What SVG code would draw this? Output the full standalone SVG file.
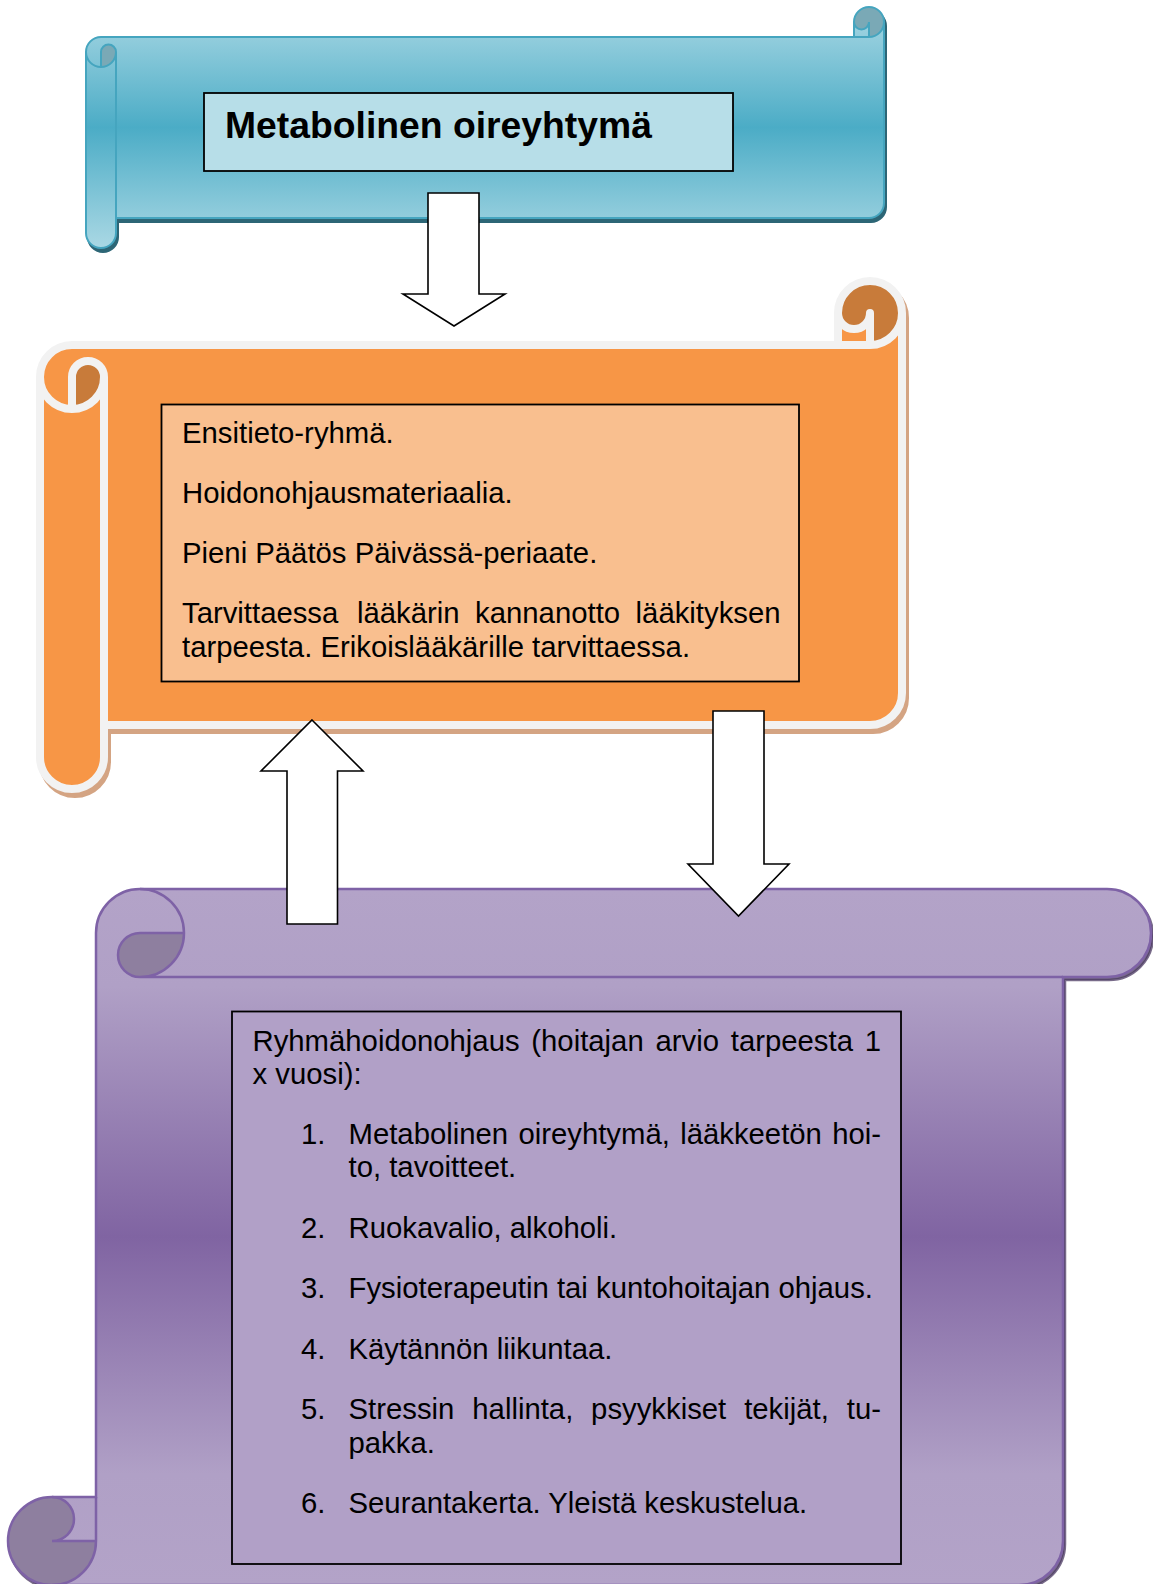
<svg xmlns="http://www.w3.org/2000/svg" width="1153" height="1584" viewBox="0 0 1153 1584">
  <style>
    .t { font-family: "Liberation Sans", Arial, sans-serif; font-size: 29.3px; fill: #000; }
    .title { font-family: "Liberation Sans", Arial, sans-serif; font-size: 37.3px; font-weight: bold; fill: #000; }
    .box { stroke: #000; stroke-width: 1.8; }
    .arrow { fill: #fff; stroke: #000; stroke-width: 1.6; stroke-linejoin: miter; }
    .blue-line { fill: none; stroke: #45A5BF; stroke-width: 2; }
    .orange-line { fill: none; stroke: #F2F2F2; stroke-width: 8; stroke-linejoin: round; }
    .purple-line { fill: none; stroke: #7E62A6; stroke-width: 2.5; }
  </style>
  <defs>
    <linearGradient id="gBlue" x1="0" y1="0" x2="0" y2="1">
      <stop offset="0" stop-color="#AAD8E4"/>
      <stop offset="0.5" stop-color="#4BACC6"/>
      <stop offset="1" stop-color="#AAD8E4"/>
    </linearGradient>
    <linearGradient id="gPurple" x1="0" y1="0" x2="0" y2="1">
      <stop offset="0" stop-color="#B3A3C8"/>
      <stop offset="0.14" stop-color="#B0A0C6"/>
      <stop offset="0.5" stop-color="#8064A2"/>
      <stop offset="0.84" stop-color="#B0A0C6"/>
      <stop offset="1" stop-color="#B3A3C8"/>
    </linearGradient>
    <path id="blueOuter" d="M15,30 L768,30 L768,15 A15,15 0 0 1 798,15 L798,196 A15,15 0 0 1 783,211 L30,211 L30,226 A15,15 0 0 1 0,226 L0,45 A15,15 0 0 1 15,30 Z"/>
    <path id="orangeOuter" d="M32,64 L798,64 L798,32 A32,32 0 0 1 862,32 L862,412 A32,32 0 0 1 830,444 L64,444 L64,476 A32,32 0 0 1 0,476 L0,96 A32,32 0 0 1 32,64 Z"/>
    <path id="purpleOuter" d="M88,608 L88,44 A44,44 0 0 1 132,0 L1099,0 A44,44 0 0 1 1099,88 L1055,88 L1055,652 A44,44 0 0 1 1011,696 L44,696 A44,44 0 0 1 44,608 Z"/>
  </defs>

  <!-- Purple scroll (bottom) -->
  <g id="node-ryhmahoidonohjaus">
    <g transform="translate(8,889)">
      <use href="#purpleOuter" transform="translate(2,3)" fill="#4B3A61" fill-opacity="0.75" stroke="#4B3A61" stroke-opacity="0.75" stroke-width="2.5"/>
      <use href="#purpleOuter" style="fill:url(#gPurple)"/>
      <path d="M176,44 A44,44 0 0 1 132,88 A22,22 0 0 1 132,44 Z M88,652 A44,44 0 1 1 44,608 A22,22 0 0 1 44,652 Z" fill="#8E7F9F"/>
      <path class="purple-line" d="M132,0 A44,44 0 0 1 132,88 A22,22 0 0 1 132,44 L176,44 M1055,88 L132,88 M44,608 A22,22 0 0 1 44,652 L88,652 M44,696 A44,44 0 0 0 88,652 L88,608"/>
      <use href="#purpleOuter" class="purple-line"/>
    </g>
    <rect class="box" x="232" y="1011.5" width="669" height="552.5" fill="#B1A0C7"/>
    <text class="t" y="1050.5"><tspan x="252.5">Ryhmähoidonohjaus</tspan><tspan x="531.3">(hoitajan</tspan><tspan x="655.5">arvio</tspan><tspan x="730.8">tarpeesta</tspan><tspan x="864.8">1</tspan></text>
    <text class="t" x="252.5" y="1084">x vuosi):</text>
    <text class="t" x="301" y="1143.5">1.</text>
    <text class="t" y="1143.5"><tspan x="348.5">Metabolinen</tspan><tspan x="518.4">oireyhtymä,</tspan><tspan x="680.2">lääkkeetön</tspan><tspan x="832.2">hoi-</tspan></text>
    <text class="t" x="348.5" y="1177">to, tavoitteet.</text>
    <text class="t" x="301" y="1237.5">2.</text>
    <text class="t" x="348.5" y="1237.5">Ruokavalio, alkoholi.</text>
    <text class="t" x="301" y="1298">3.</text>
    <text class="t" x="348.5" y="1298">Fysioterapeutin tai kuntohoitajan ohjaus.</text>
    <text class="t" x="301" y="1358.5">4.</text>
    <text class="t" x="348.5" y="1358.5">Käytännön liikuntaa.</text>
    <text class="t" x="301" y="1419">5.</text>
    <text class="t" y="1419"><tspan x="348.5">Stressin</tspan><tspan x="472.3">hallinta,</tspan><tspan x="591.1">psyykkiset</tspan><tspan x="744.2">tekijät,</tspan><tspan x="846.8">tu-</tspan></text>
    <text class="t" x="348.5" y="1452.5">pakka.</text>
    <text class="t" x="301" y="1513">6.</text>
    <text class="t" x="348.5" y="1513">Seurantakerta. Yleistä keskustelua.</text>
  </g>

  <!-- Orange scroll (middle) -->
  <g id="node-ensitieto">
    <g transform="translate(40,281)">
      <use href="#orangeOuter" transform="translate(3,5)" fill="#D4A483" stroke="#D4A483" stroke-width="8" stroke-linejoin="round"/>
      <use href="#orangeOuter" fill="#F79646"/>
      <path d="M32,128 A32,32 0 0 0 64,96 A16,16 0 0 0 32,96 Z M830,64 A32,32 0 1 0 798,32 A16,16 0 0 0 830,32 Z" fill="#C87B3A"/>
      <path class="orange-line" d="M798,64 L830,64 A32,32 0 0 0 862,32 M830,64 L830,32 A16,16 0 0 1 798,32 M32,128 L32,96 A16,16 0 0 1 64,96 A32,32 0 0 1 0,96 M64,96 L64,444"/>
      <use href="#orangeOuter" class="orange-line"/>
    </g>
    <rect class="box" x="161.5" y="404.5" width="637.5" height="277" fill="#F9BF8F"/>
    <text class="t" x="182" y="442.5">Ensitieto-ryhmä.</text>
    <text class="t" x="182" y="502.5">Hoidonohjausmateriaalia.</text>
    <text class="t" x="182" y="562.5">Pieni Päätös Päivässä-periaate.</text>
    <text class="t" y="623"><tspan x="182">Tarvittaessa</tspan><tspan x="357">lääkärin</tspan><tspan x="475.1">kannanotto</tspan><tspan x="635.6">lääkityksen</tspan></text>
    <text class="t" x="182" y="656.5">tarpeesta. Erikoislääkärille tarvittaessa.</text>
  </g>

  <!-- Blue scroll (top) -->
  <g id="node-metabolinen">
    <g transform="translate(86,7)">
      <use href="#blueOuter" transform="translate(2,4)" fill="#2D6676" stroke="#2D6676" stroke-width="2"/>
      <use href="#blueOuter" style="fill:url(#gBlue)"/>
      <path d="M15,60 A15,15 0 0 0 30,45 A7.5,7.5 0 0 0 15,45 Z M783,30 A15,15 0 1 0 768,15 A7.5,7.5 0 0 0 783,15 Z" fill="#7AA9B6"/>
      <path class="blue-line" d="M768,30 L783,30 A15,15 0 0 0 798,15 M783,30 L783,15 A7.5,7.5 0 0 1 768,15 M15,60 L15,45 A7.5,7.5 0 0 1 30,45 A15,15 0 0 1 0,45 M30,45 L30,211"/>
      <use href="#blueOuter" class="blue-line"/>
    </g>
    <rect class="box" x="204" y="93" width="529" height="78" fill="#B7DEE8"/>
    <text class="title" x="225" y="138">Metabolinen oireyhtymä</text>
  </g>

  <!-- Connectors (block arrows) -->
  <g id="connectors">
    <polygon class="arrow" points="428,193 479,193 479,294 505,294 454,326 403,294 428,294"/>
    <polygon class="arrow" points="312,720 363,771 337.5,771 337.5,924 287,924 287,771 261,771"/>
    <polygon class="arrow" points="713,711 764,711 764,864 789,864 738.5,916 688,864 713,864"/>
  </g>
</svg>
